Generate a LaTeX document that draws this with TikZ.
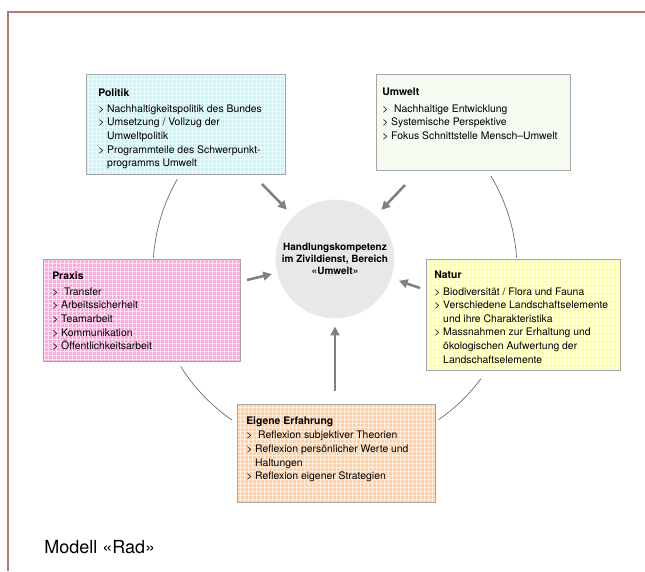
\documentclass[tikz,border=0pt]{standalone}
\usepackage{fontspec}
\setmainfont{TeX Gyre Heros}
\usetikzlibrary{patterns, arrows.meta, calc}

\definecolor{rahmen}{RGB}{183,120,120}
\definecolor{politikblau}{RGB}{205,243,248}
\definecolor{umweltweiss}{RGB}{250,253,248}
\definecolor{umweltgruen}{RGB}{200,236,190}
\definecolor{praxisrosa}{RGB}{252,172,220}
\definecolor{naturgelb}{RGB}{255,255,168}
\definecolor{erfahrungorange}{RGB}{253,210,170}
\definecolor{kerngrau}{RGB}{232,232,232}
\definecolor{pfeilgrau}{RGB}{128,128,128}

\tikzset{
    kasten/.style={draw=black!35, line width=0.6pt, anchor=north west, inner sep=0pt,
        preaction={fill=#1}, preaction={pattern=grid, pattern color=#1!35}},
    inhalt/.style={anchor=north west, inner sep=0pt, align=left,
        font=\fontsize{7.8}{10.2}\selectfont},
    pfeil/.style={draw=pfeilgrau, line width=1.9pt, -{Triangle[length=6.5pt,width=6.5pt]}, shorten >=#1},
    pfeil/.default=6pt,
    rad/.style={draw=black!60, line width=0.5pt}
}

\begin{document}
\begin{tikzpicture}[x=0.75pt, y=-0.75pt]
        \useasboundingbox (0,0) rectangle (645,571);
        \draw[rahmen, line width=1.2pt] (645,12) -- (8,12) -- (8,571);

        % Kasten
        \node[kasten=politikblau, minimum width=149pt, minimum height=75pt] (politik) at (86,74) {};
        \node[draw=black!35, line width=0.6pt, anchor=north west, inner sep=0pt,
            preaction={fill=umweltweiss}, preaction={pattern=crosshatch dots, pattern color=umweltgruen},
            minimum width=145.5pt, minimum height=72pt] (umwelt) at (376,74) {};
        \node[kasten=praxisrosa, minimum width=147.75pt, minimum height=76.5pt] (praxis) at (43,259) {};
        \node[kasten=naturgelb, minimum width=145.5pt, minimum height=83.25pt] (natur) at (426,259) {};
        \node[kasten=erfahrungorange, minimum width=148.5pt, minimum height=73.5pt] (erfahrung) at (237,404) {};

        \node[inhalt] (politik-text) at ([shift={(12,14)}]politik.north west)
            {\textbf{Politik}\\[2pt]
            > Nachhaltigkeitspolitik des Bundes\\
            > Umsetzung / Vollzug der\\
            \phantom{> }Umweltpolitik\\
            > Programmteile des Schwerpunkt-\\
            \phantom{> }programms Umwelt};
        \node[inhalt] (umwelt-text) at ([shift={(6,14)}]umwelt.north west)
            {\textbf{Umwelt}\\[2pt]
            >\ \ Nachhaltige Entwicklung\\
            > Systemische Perspektive\\
            > Fokus Schnittstelle Mensch–Umwelt};
        \node[inhalt] (praxis-text) at ([shift={(9,12)}]praxis.north west)
            {\textbf{Praxis}\\[2pt]
            >\ \ Transfer\\
            > Arbeitssicherheit\\
            > Teamarbeit\\
            > Kommunikation\\
            > Öffentlichkeitsarbeit};
        \node[inhalt] (natur-text) at ([shift={(8,12)}]natur.north west)
            {\textbf{Natur}\\[2pt]
            > Biodiversität / Flora und Fauna\\
            > Verschiedene Landschaftselemente\\
            \phantom{> }und ihre Charakteristika\\
            > Massnahmen zur Erhaltung und\\
            \phantom{> }ökologischen Aufwertung der\\
            \phantom{> }Landschaftselemente};
        \node[inhalt] (erfahrung-text) at ([shift={(9,12)}]erfahrung.north west)
            {\textbf{Eigene Erfahrung}\\[1pt]
            >\ \ Reflexion subjektiver Theorien\\
            > Reflexion persönlicher Werte und\\
            \phantom{> }Haltungen\\
            > Reflexion eigener Strategien};

        % Mitte
        \node[circle, fill=kerngrau, minimum size=89pt, inner sep=0pt, align=center,
            font=\fontsize{7.5}{8.8}\selectfont\bfseries] (kern) at (335,259)
            {Handlungskompetenz\\im Zivildienst, Bereich\\«Umwelt»};

        % Rad
        \coordinate (mitte) at (335,270);
        \draw[rad] ([shift={(210:182)}]mitte) arc (210:184:182);
        \draw[rad] ([shift={(-31:182)}]mitte) arc (-31:-4:182);
        \draw[rad] ([shift={(148:182)}]mitte) arc (148:124.5:182);
        \draw[rad] ([shift={(36.7:182)}]mitte) arc (36.7:55.3:182);

        % Pfeile
        \coordinate (politik-pfeil) at (262,184);
        \coordinate (umwelt-pfeil) at (405,185);
        \coordinate (praxis-pfeil) at (247,280);
        \coordinate (natur-pfeil) at (420,288);
        \coordinate (erfahrung-pfeil) at (335,391);
        \draw[pfeil=7pt] (politik-pfeil) -- (kern);
        \draw[pfeil] (umwelt-pfeil) -- (kern);
        \draw[pfeil=4pt] (praxis-pfeil) -- (kern);
        \draw[pfeil] (natur-pfeil) -- (kern);
        \draw[pfeil] (erfahrung-pfeil) -- (kern);

        \node[anchor=west, inner sep=0pt, font=\fontsize{13.5}{16}\selectfont] (titel) at (44,547) {Modell «Rad»};
\end{tikzpicture}
\end{document}
